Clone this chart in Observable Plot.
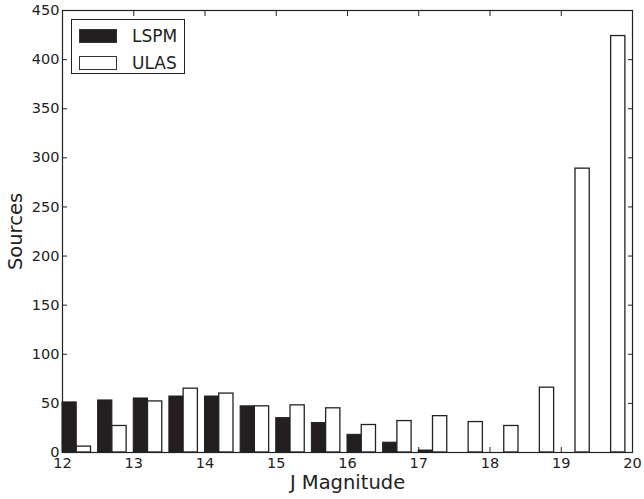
<!DOCTYPE html>
<html>
<head>
<meta charset="utf-8">
<script src="https://cdn.jsdelivr.net/npm/d3@7"></script>
<script src="https://cdn.jsdelivr.net/npm/@observablehq/plot@0.6"></script>
<style>
  html, body { margin: 0; padding: 0; background: #fff; }
  #wrap { position: relative; width: 644px; height: 499px; font-family: "DejaVu Sans", sans-serif; }
  #legend { position: absolute; left: 71px; top: 19px; width: 114px; height: 55px; border: 1px solid #222; background: #fff; box-sizing: border-box; }
  .row { position: absolute; left: 7px; display: flex; align-items: center; }
  .sw { width: 38px; height: 14px; box-sizing: border-box; border: 1px solid #333; }
  .lab { margin-left: 15px; font-size: 17px; color: #222; }
</style>
</head>
<body>
<div id="wrap"></div>
<script>
// Bin starts (J magnitude), bin width 0.5
const bins = [12, 12.5, 13, 13.5, 14, 14.5, 15, 15.5, 16, 16.5, 17, 17.5, 18, 18.5, 19, 19.5];
const lspm = [51, 53, 55, 57, 57, 47, 35, 30, 18, 10, 2, 0, 0, 0, 0, 0];
const ulas = [6, 27, 52, 65, 60, 47, 48, 45, 28, 32, 37, 31, 27, 66, 289, 424];
const xTicks = [12, 13, 14, 15, 16, 17, 18, 19, 20];
const yTicks = [0, 50, 100, 150, 200, 250, 300, 350, 400, 450];
const seriesNames = ["LSPM", "ULAS"];
const barWidth = 0.2;

const lspmData = bins.map((b, i) => ({bin: b, v: lspm[i]})).filter(d => d.v > 0);
const ulasData = bins.map((b, i) => ({bin: b, v: ulas[i]})).filter(d => d.v > 0);

const chart = Plot.plot({
  width: 644,
  height: 499,
  marginLeft: 62,
  marginRight: 12,
  marginTop: 10,
  marginBottom: 47,
  style: {fontFamily: "DejaVu Sans, sans-serif", background: "#fff", color: "#222"},
  x: {domain: [12, 20]},
  y: {domain: [0, 450]},
  marks: [
    Plot.rectY(lspmData, {x1: d => d.bin, x2: d => d.bin + barWidth, y: "v", fill: "#231f20", stroke: "#231f20", strokeWidth: 1}),
    Plot.rectY(ulasData, {x1: d => d.bin + barWidth, x2: d => d.bin + 2 * barWidth, y: "v", fill: "#fff", stroke: "#222", strokeWidth: 1.3}),
    Plot.frame({stroke: "#222", strokeWidth: 1.2}),
    Plot.axisX(xTicks, {anchor: "bottom", tickSize: -5, tickPadding: 10, fontSize: 14.5, label: null}),
    Plot.axisX(xTicks, {anchor: "top", tickSize: -5, tickFormat: () => "", label: null}),
    Plot.axisY(yTicks, {anchor: "left", tickSize: -5, tickPadding: 8, fontSize: 14.5, label: null}),
    Plot.axisY(yTicks, {anchor: "right", tickSize: -5, tickFormat: () => "", label: null}),
    Plot.text(["J Magnitude"], {frameAnchor: "bottom", dy: 36, fontSize: 19.5, fill: "#222"}),
    Plot.text(["Sources"], {frameAnchor: "left", textAnchor: "middle", rotate: -90, dx: -47, fontSize: 19.5, fill: "#222"})
  ]
});

const wrap = document.getElementById("wrap");
wrap.appendChild(chart);

const legend = document.createElement("div");
legend.id = "legend";
const fills = ["#231f20", "#fff"];
seriesNames.forEach((name, i) => {
  const row = document.createElement("div");
  row.className = "row";
  row.style.top = (i === 0 ? 6 : 33) + "px";
  const sw = document.createElement("div");
  sw.className = "sw";
  sw.style.background = fills[i];
  const lab = document.createElement("span");
  lab.className = "lab";
  lab.textContent = name;
  row.appendChild(sw);
  row.appendChild(lab);
  legend.appendChild(row);
});
wrap.appendChild(legend);
</script>
</body>
</html>
